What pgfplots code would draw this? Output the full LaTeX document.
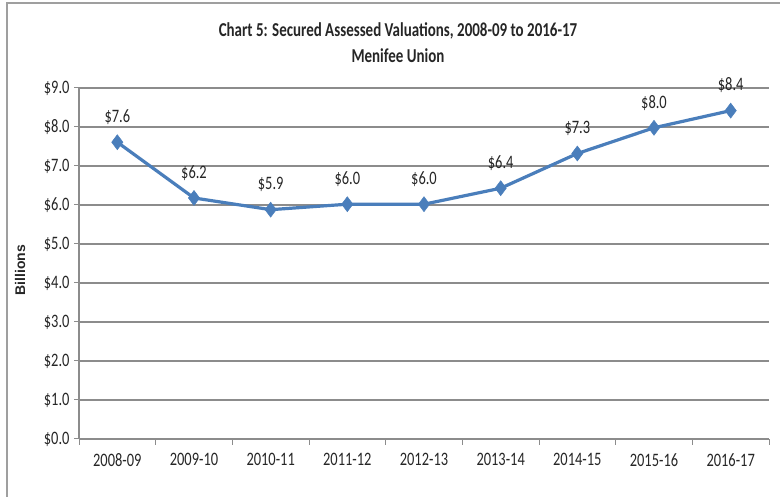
\documentclass[border=0pt]{standalone}
\usepackage{fontspec}
\setmainfont{Carlito}[FakeStretch=0.76]
\newfontfamily\arialfont{Liberation Sans}
\usepackage{pgfplots}
\pgfplotsset{compat=1.18}
\definecolor{lineblue}{RGB}{74,126,187}
\definecolor{gridgray}{RGB}{140,140,140}
\definecolor{txt}{RGB}{38,38,38}
\begin{document}
\begin{tikzpicture}[x=1pt,y=1pt]
\useasboundingbox (0,0) rectangle (780,497);
\draw[gray!75, line width=2pt] (7,0) -- (7,494);
\draw[gray!75, line width=2pt] (6,494) -- (800,494);
\node[font=\fontsize{19.7}{22}\selectfont\bfseries, text=txt] at (398,466) {Chart 5: Secured Assessed Valuations, 2008-09 to 2016-17};
\node[font=\fontsize{19.7}{22}\selectfont\bfseries, text=txt] at (398,441) {Menifee Union};
\node[font=\arialfont\fontsize{14}{16}\selectfont\bfseries, rotate=90, text=txt] at (20,227) {Billions};
\begin{axis}[
  at={(79pt,58pt)}, anchor=south west,
  scale only axis, width=690pt, height=351pt,
  xmin=-0.5, xmax=8.5, ymin=0, ymax=9,
  xtick={0,...,8},
  xticklabels={2008-09,2009-10,2010-11,2011-12,2012-13,2013-14,2014-15,2015-16,2016-17},
  minor xtick={-0.5,0.5,...,8.5},
  ytick={0,...,9},
  yticklabel={\$\pgfmathprintnumber[fixed,fixed zerofill,precision=1]{\tick}},
  /pgf/number format/assume math mode=true,
  ymajorgrids,
  grid style={gridgray, line width=1.3pt},
  axis x line*=bottom, axis y line*=left,
  axis line style={-, gridgray, line width=1.3pt},
  tick align=outside,
  major tick length=5pt, minor tick length=6pt,
  major x tick style={draw=none},
  minor x tick style={gridgray, line width=1pt},
  major y tick style={gridgray, line width=1pt},
  ticklabel style={font=\fontsize{19}{21}\selectfont, text=txt},
  xticklabel style={yshift=-6pt},
  yticklabel style={xshift=-1pt},
  clip=false,
]
\addplot[color=lineblue, line width=3.2pt, mark=diamond*, mark size=7.5pt,
  mark options={fill=lineblue, draw=lineblue, line width=0.5pt},
  nodes near coords={\$\pgfmathprintnumber[fixed,fixed zerofill,precision=1]{\pgfplotspointmeta}},
  nodes near coords align={above},
  every node near coord/.append style={yshift=14pt, font=\fontsize{19}{21}\selectfont, text=txt},
] coordinates {
(0,7.61) (1,6.18) (2,5.88) (3,6.02) (4,6.02) (5,6.43) (6,7.32) (7,7.98) (8,8.42)
};
\end{axis}
\end{tikzpicture}
\end{document}
